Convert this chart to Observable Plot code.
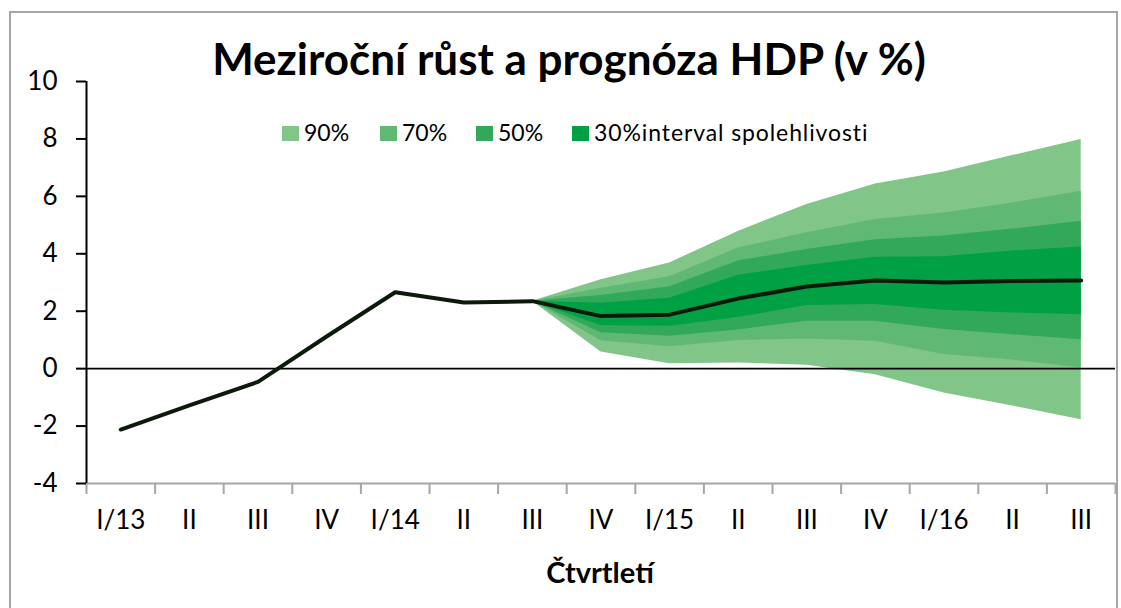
<!DOCTYPE html>
<html>
<head>
<meta charset="utf-8">
<script src="https://cdn.jsdelivr.net/npm/d3@7"></script>
<script src="https://cdn.jsdelivr.net/npm/@observablehq/plot@0.6"></script>
<style>
  html, body { margin: 0; padding: 0; background: #fff; }
  #wrap { position: relative; width: 1121px; height: 608px; overflow: hidden; font-family: Lato, "Open Sans", sans-serif; }
  #border { position: absolute; left: 9px; top: 11px; width: 1109px; height: 640px; border: 2px solid #a6a6a6; box-sizing: border-box; }
  #plot { position: absolute; left: 0; top: 0; }
  #overlay { position: absolute; left: 0; top: 0; pointer-events: none; }
</style>
</head>
<body>
<div id="wrap">
  <div id="border"></div>
  <div id="plot"></div>
  <svg id="overlay" width="1121" height="608"></svg>
</div>
<script>
// ---------- data ----------
const title = "Meziroční růst a prognóza HDP (v %)";
const xTitle = "Čtvrtletí";
const quarters = ["I/13","II","III","IV","I/14","II","III","IV","I/15","II","III","IV","I/16","II","III"];
const gdp = [-2.12, -1.28, -0.46, 1.12, 2.66, 2.3, 2.35, 1.83, 1.88, 2.44, 2.86, 3.07, 3.0, 3.05, 3.07];
const fanStart = 6; // III/14
const hi90 = [2.35, 3.1, 3.68, 4.78, 5.72, 6.43, 6.85, 7.42, 7.98];
const hi70 = [2.35, 2.8, 3.2, 4.2, 4.73, 5.19, 5.42, 5.77, 6.18];
const hi50 = [2.35, 2.55, 2.85, 3.75, 4.15, 4.49, 4.62, 4.86, 5.13];
const hi30 = [2.35, 2.28, 2.45, 3.25, 3.59, 3.88, 3.9, 4.1, 4.24];
const lo30 = [2.35, 1.5, 1.48, 1.78, 2.2, 2.23, 2.03, 1.94, 1.88];
const lo50 = [2.35, 1.25, 1.13, 1.35, 1.65, 1.65, 1.36, 1.18, 1.01];
const lo70 = [2.35, 0.97, 0.76, 0.98, 1.03, 0.95, 0.49, 0.3, 0.02];
const lo90 = [2.35, 0.58, 0.17, 0.2, 0.12, -0.21, -0.85, -1.3, -1.78];
const bandLabels = ["90%", "70%", "50%", "30%"];
const legendSuffix = "interval spolehlivosti";
const bandColors = ["#81c589", "#5fb974", "#32a85a", "#00a044"];
const yTicks = [-4, -2, 0, 2, 4, 6, 8, 10];
const yDomain = [-4, 10];
const xDomain = [-0.5, quarters.length - 0.5];

// ---------- tables ----------
const hist = gdp.map((v, i) => ({i, v}));
const fan = hi90.map((_, k) => ({
  i: fanStart + k,
  hi90: hi90[k], hi70: hi70[k], hi50: hi50[k], hi30: hi30[k],
  lo30: lo30[k], lo50: lo50[k], lo70: lo70[k], lo90: lo90[k]
}));
const bandKeys = [["lo90","hi90"],["lo70","hi70"],["lo50","hi50"],["lo30","hi30"]];
const boundaries = d3.range(quarters.length + 1).map(k => k - 0.5);
const centers = d3.range(quarters.length);

const chart = Plot.plot({
  width: 1121,
  height: 608,
  marginLeft: 86,
  marginRight: 6,
  marginTop: 81,
  marginBottom: 125,
  style: {fontFamily: "Lato, 'Open Sans', sans-serif", background: "transparent", color: "black"},
  x: {type: "linear", domain: xDomain, label: null},
  y: {domain: yDomain, label: null},
  marks: [
    ...bandKeys.map(([lo, hi], j) =>
      Plot.areaY(fan, {x: "i", y1: lo, y2: hi, fill: bandColors[j], curve: "linear"})),
    Plot.ruleY([0], {stroke: "black", strokeWidth: 1.6}),
    Plot.ruleY([yDomain[0]], {stroke: "#a6a6a6", strokeWidth: 2}),
    Plot.axisX({ticks: boundaries, tickSize: 11, tickFormat: () => "", stroke: "#a6a6a6", strokeWidth: 2, label: null}),
    Plot.axisX({ticks: centers, tickSize: 0, tickPadding: 27, fontSize: 26, fill: "black",
      tickFormat: i => quarters[i], label: null}),
    Plot.ruleX([xDomain[0]], {y1: yDomain[0], y2: yDomain[1], stroke: "black", strokeWidth: 2}),
    Plot.axisY({ticks: yTicks, tickSize: 10, tickPadding: 19, fontSize: 26, stroke: "black", strokeWidth: 2,
      fill: "black", tickFormat: d => String(d), label: null}),
    Plot.line(hist, {x: "i", y: "v", stroke: "#0b1a0b", strokeWidth: 4, strokeLinejoin: "round"})
  ]
});
document.getElementById("plot").appendChild(chart);

// ---------- title, legend, axis title ----------
const ov = d3.select("#overlay");
ov.append("text").attr("x", 569).attr("y", 75).attr("text-anchor", "middle")
  .attr("font-family", "Lato, sans-serif").attr("font-weight", 700).attr("font-size", 44)
  .attr("fill", "black").text(title);

const legendX = [282, 380, 476, 572];
bandLabels.forEach((lab, j) => {
  ov.append("rect").attr("x", legendX[j]).attr("y", 126).attr("width", 17).attr("height", 15)
    .attr("fill", bandColors[j]);
  ov.append("text").attr("x", legendX[j] + 22).attr("y", 141)
    .attr("font-family", "Lato, sans-serif").attr("font-size", 23).attr("fill", "black")
    .attr("letter-spacing", j === bandLabels.length - 1 ? 0.9 : 0)
    .text(j === bandLabels.length - 1 ? lab + legendSuffix : lab);
});

ov.append("text").attr("x", 600).attr("y", 583).attr("text-anchor", "middle")
  .attr("font-family", "Lato, sans-serif").attr("font-weight", 700).attr("font-size", 29)
  .attr("fill", "black").text(xTitle);
</script>
</body>
</html>
